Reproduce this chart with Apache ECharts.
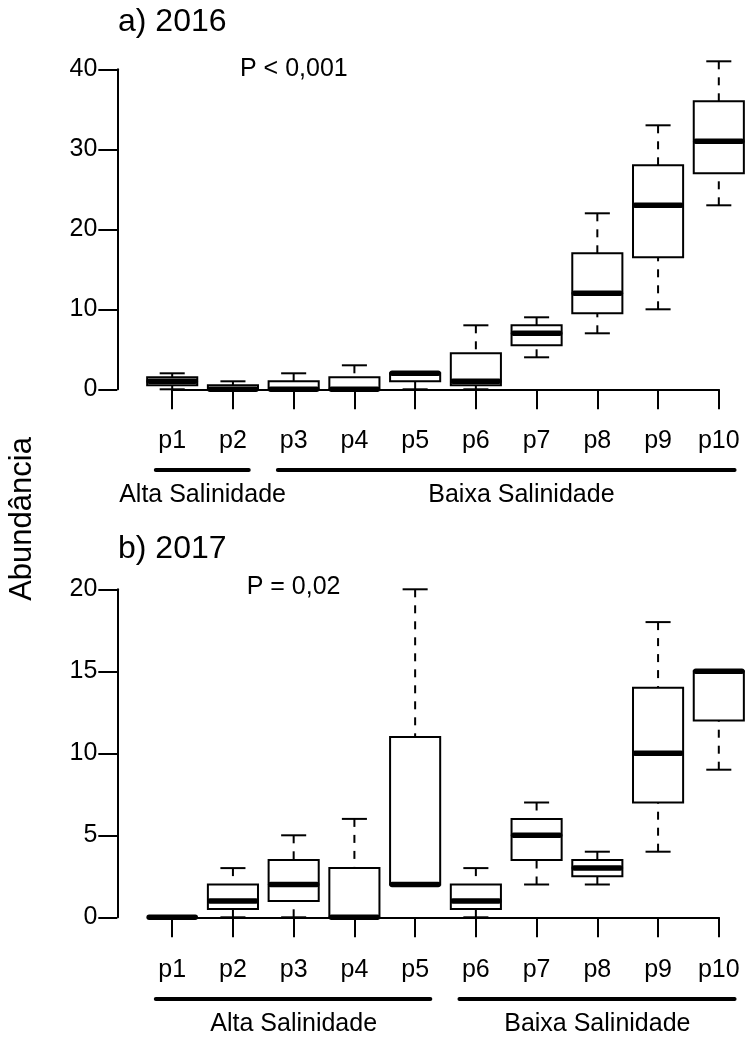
<!DOCTYPE html>
<html><head><meta charset="utf-8">
<script src="https://cdn.jsdelivr.net/npm/echarts@6/dist/echarts.min.js"></script>
<style>html,body{margin:0;padding:0;background:#fff}#c{width:745px;height:1039px}</style>
</head><body><div id="c"></div>
<script>
// ---- data ----
const categories = ['p1','p2','p3','p4','p5','p6','p7','p8','p9','p10'];
// each row: [lower whisker, Q1, median, Q3, upper whisker]
const box2016 = [
  [0,0.5,1,1.5,2],[0,0,0,0.5,1],[0,0,0,1,2],[0,0,0,1.5,3],[0,1,2,2,2],
  [0,0.5,1,4.5,8],[4,5.5,7,8,9],[7,9.5,12,17,22],[10,16.5,23,28,33],[23,27,31,36,41]
];
const box2017 = [
  [0,0,0,0,0],[0,0.5,1,2,3],[0,1,2,3.5,5],[0,0,0,3,6],[2,2,2,11,20],
  [0,0.5,1,2,3],[2,3.5,5,6,7],[2,2.5,3,3.5,4],[4,7,10,14,18],[9,12,15,15,15]
];
const yTicks2016 = [0,10,20,30,40];
const yTicks2017 = [0,5,10,15,20];
const groupNames2016 = ['Alta Salinidade','Baixa Salinidade'];
const groupSpan2016 = [[0.73,2.26],[2.74,10.26]];   // in category positions (p1 = 1)
const groupLabelAt2016 = [1.5,6.75];
const groupNames2017 = ['Alta Salinidade','Baixa Salinidade'];
const groupSpan2017 = [[0.73,5.25],[5.73,10.26]];
const groupLabelAt2017 = [3,8];
const title2016 = 'a) 2016', title2017 = 'b) 2017';
const pText2016 = 'P < 0,001', pText2017 = 'P = 0,02';
const yLabel = 'Abundância';

// ---- styling ----
const FONT = '"Liberation Sans", Arial, sans-serif';
const chart = echarts.init(document.getElementById('c'), null, {renderer:'canvas'});

function boxRender(params, api){
  const i = api.value(0);
  const lo = api.value(1), q1 = api.value(2), med = api.value(3), q3 = api.value(4), hi = api.value(5);
  const step = api.coord([1,0])[0] - api.coord([0,0])[0];
  const x = api.coord([i, med])[0];
  const bw = step*0.825, hw = bw/2, sw = bw/4;
  const yLo = api.coord([i, lo])[1], yQ1 = api.coord([i, q1])[1], yMed = api.coord([i, med])[1];
  const yQ3 = api.coord([i, q3])[1], yHi = api.coord([i, hi])[1];
  const ch = [];
  if (hi > q3) ch.push({type:'line', shape:{x1:x,y1:yHi,x2:x,y2:yQ3}, style:{stroke:'#000',lineWidth:2,lineDash:[8,8]}});
  if (lo < q1) ch.push({type:'line', shape:{x1:x,y1:yLo,x2:x,y2:yQ1}, style:{stroke:'#000',lineWidth:2,lineDash:[8,8]}});
  ch.push({type:'line', shape:{x1:x-sw,y1:yHi,x2:x+sw,y2:yHi}, style:{stroke:'#000',lineWidth:2}});
  ch.push({type:'line', shape:{x1:x-sw,y1:yLo,x2:x+sw,y2:yLo}, style:{stroke:'#000',lineWidth:2}});
  ch.push({type:'rect', shape:{x:x-hw,y:yQ3,width:bw,height:yQ1-yQ3}, style:{fill:'#fff',stroke:'#000',lineWidth:2}});
  ch.push({type:'line', shape:{x1:x-hw+2,y1:yMed,x2:x+hw-2,y2:yMed}, style:{stroke:'#000',lineWidth:5.5,lineCap:'round'}});
  return {type:'group', children:ch};
}

function groupRenderFactory(spans, labelsAt, names, axisOffset){
  return function(params, api){
    const k = params.dataIndex;
    const x0 = api.coord([0,0])[0], step = api.coord([1,0])[0] - x0;
    const px = u => x0 + (u-1)*step;
    const yAxisPix = api.coord([0,0])[1] + axisOffset;
    return {type:'group', children:[
      {type:'line', shape:{x1:px(spans[k][0]), y1:yAxisPix+67.5, x2:px(spans[k][1]), y2:yAxisPix+67.5},
       style:{stroke:'#000', lineWidth:4, lineCap:'round'}},
      {type:'text', style:{text:names[k], x:px(labelsAt[k]), y:yAxisPix+93,
        textAlign:'center', textVerticalAlign:'middle', align:'center', verticalAlign:'middle',
        font:'25px ' + FONT, fill:'#000'}}
    ]};
  };
}

const xOffA = 13.3, xOffB = 14.2;
function xAxisCfg(gi, off){
  return {type:'category', gridIndex:gi, data:categories, boundaryGap:false, offset:off,
    axisLine:{lineStyle:{color:'#000', width:2}},
    axisTick:{length:20, alignWithLabel:true, interval:0, lineStyle:{color:'#000', width:2}},
    axisLabel:{interval:0, margin:26, fontSize:25, color:'#000', fontFamily:FONT},
    splitLine:{show:false}};
}
function yAxisCfg(gi, ticks){
  return {type:'value', gridIndex:gi, min:ticks[0], max:ticks[ticks.length-1], interval:ticks[1]-ticks[0],
    offset:54.9,
    axisLine:{show:true, lineStyle:{color:'#000', width:2}},
    axisTick:{show:true, length:19, lineStyle:{color:'#000', width:2}},
    axisLabel:{margin:20, fontSize:25, color:'#000', fontFamily:FONT},
    splitLine:{show:false}};
}

chart.setOption({
  animation:false,
  backgroundColor:'#fff',
  grid:[
    {left:172.2, top:69.3, width:546.6, height:320},
    {left:172.2, top:589.3, width:546.6, height:328}
  ],
  xAxis:[xAxisCfg(0, xOffA), xAxisCfg(1, xOffB)],
  yAxis:[yAxisCfg(0, yTicks2016), yAxisCfg(1, yTicks2017)],
  series:[
    {type:'custom', xAxisIndex:0, yAxisIndex:0, clip:false, renderItem:boxRender,
     encode:{x:0, y:[1,2,3,4,5]}, data: box2016.map((r,i)=>[i].concat(r))},
    {type:'custom', xAxisIndex:1, yAxisIndex:1, clip:false, renderItem:boxRender,
     encode:{x:0, y:[1,2,3,4,5]}, data: box2017.map((r,i)=>[i].concat(r))},
    {type:'custom', xAxisIndex:0, yAxisIndex:0, clip:false,
     renderItem:groupRenderFactory(groupSpan2016, groupLabelAt2016, groupNames2016, xOffA),
     encode:{x:0, y:1}, data: groupNames2016.map(()=>[0,0]), silent:true},
    {type:'custom', xAxisIndex:1, yAxisIndex:1, clip:false,
     renderItem:groupRenderFactory(groupSpan2017, groupLabelAt2017, groupNames2017, xOffB),
     encode:{x:0, y:1}, data: groupNames2017.map(()=>[0,0]), silent:true}
  ],
  graphic:[
    {type:'text', left:118, top:6, style:{text:title2016, font:'32px '+FONT, fill:'#000'}},
    {type:'text', left:118, top:533, style:{text:title2017, font:'32px '+FONT, fill:'#000'}},
    {type:'text', left:240, top:57, style:{text:pText2016, font:'25px '+FONT, fill:'#000'}},
    {type:'text', left:246.7, top:575, style:{text:pText2017, font:'25px '+FONT, fill:'#000'}},
    {type:'text', x:22, y:519, rotation:Math.PI/2,
     style:{text:yLabel, font:'31px '+FONT, fill:'#000', textAlign:'center', textVerticalAlign:'middle', align:'center', verticalAlign:'middle'}}
  ]
});
</script>
</body></html>
